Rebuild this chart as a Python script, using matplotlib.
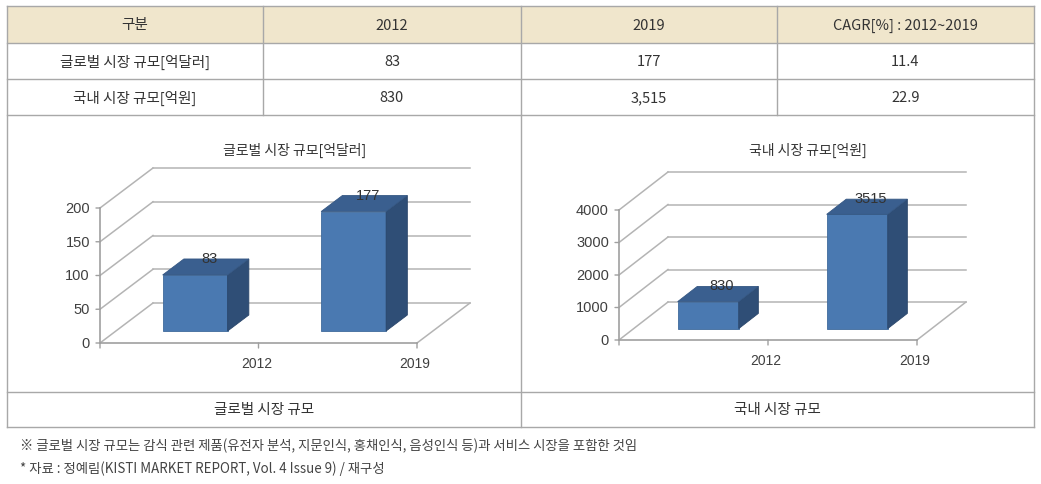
import matplotlib
matplotlib.use("Agg")
import matplotlib.pyplot as plt
from matplotlib.patches import Polygon, Rectangle

plt.rcParams['font.family'] = ['Noto Sans CJK KR', 'DejaVu Sans']

# data
header = ['구분', '2012', '2019', 'CAGR[%] : 2012~2019']
years = ['2012', '2019']
row_names = ['글로벌 시장 규모[억달러]', '국내 시장 규모[억원]']
global_size = [83, 177]
domestic_size = [830, 3515]
cagr = [11.4, 22.9]
global_ticks = [0, 50, 100, 150, 200]
domestic_ticks = [0, 1000, 2000, 3000, 4000]
captions = ['글로벌 시장 규모', '국내 시장 규모']
notes = ['※ 글로벌 시장 규모는 감식 관련 제품(유전자 분석, 지문인식, 홍채인식, 음성인식 등)과 서비스 시장을 포함한 것임',
         '* 자료 : 정예림(KISTI MARKET REPORT, Vol. 4 Issue 9) / 재구성']

W, H = 1041, 485
fig = plt.figure(figsize=(W / 100, H / 100), dpi=100)

# table frame (pixel coords)
tab = fig.add_axes([0, 0, 1, 1])
tab.set_xlim(0, W)
tab.set_ylim(H, 0)
tab.axis('off')

line_c = '#a8a8a8'
txt_c = '#333333'
cols = [7, 263, 521, 777, 1034]
rows = [7, 44, 80, 116]
tab.add_patch(Rectangle((cols[0], rows[0]), cols[-1] - cols[0], rows[1] - rows[0],
                        facecolor='#f0e6cc', edgecolor='none'))
for y in rows + [393, 428]:
    tab.plot([cols[0], cols[-1]], [y, y], color=line_c, lw=1)
for x in cols:
    if x in (7, 1034):
        tab.plot([x, x], [rows[0], 428], color=line_c, lw=1)
    else:
        tab.plot([x, x], [rows[0], rows[-1]], color=line_c, lw=1)
tab.plot([521, 521], [116, 428], color=line_c, lw=1)

table_rows = [header,
              [row_names[0], f"{global_size[0]:,}", f"{global_size[1]:,}", f"{cagr[0]}"],
              [row_names[1], f"{domestic_size[0]:,}", f"{domestic_size[1]:,}", f"{cagr[1]}"]]
for r, cells in enumerate(table_rows):
    yc = (rows[r] + rows[r + 1]) / 2
    for c, s in enumerate(cells):
        xc = (cols[c] + cols[c + 1]) / 2
        tab.text(xc, yc, s, ha='center', va='center', fontsize=10.5, color=txt_c)

for xc, s in zip([264, 777], captions):
    tab.text(xc, 410.5, s, ha='center', va='center', fontsize=10.5, color=txt_c)
tab.text(20, 446, notes[0], ha='left', va='center', fontsize=9.6, color='#444444')
tab.text(20, 469, notes[1], ha='left', va='center', fontsize=9.6, color='#444444')


def chart(box, x0, x1, y0, ytop, ticks, values, depth, title, title_xy):
    left, top, right, bottom = box
    ax = fig.add_axes([left / W, 1 - bottom / H, (right - left) / W, (bottom - top) / H])
    ax.patch.set_alpha(0)
    ax.axis('off')
    n = len(values)
    ymax = ticks[-1]
    slot = (x1 - x0) / n
    vs = (y0 - ytop) / ymax
    ax.set_xlim((left - x0) / slot, (right - x0) / slot)
    ax.set_ylim((y0 - bottom) / vs, (y0 - top) / vs)
    du = depth[0] / slot
    dv = depth[1] / vs
    grid_c = '#b4b4b4'
    axis_c = '#a0a0a0'
    # walls and floor
    for t in ticks:
        ax.plot([du, n + du], [t + dv, t + dv], color=grid_c, lw=1.1, zorder=1)
        ax.plot([0, du], [t, t + dv], color=grid_c, lw=1.1, zorder=1)
        ax.annotate('', xy=(0, t), xytext=(-4, 0), textcoords='offset pixels',
                    arrowprops=dict(arrowstyle='-', color=axis_c, lw=1, shrinkA=0, shrinkB=0))
        ax.annotate(f"{t}", xy=(0, t), xytext=(-10, 0), textcoords='offset pixels',
                    ha='right', va='center', fontsize=10.5, color='#404040',
                    family=['Liberation Sans', 'DejaVu Sans'])
    ax.plot([n, n + du], [0, dv], color=grid_c, lw=1.1, zorder=1)
    ax.plot([0, n], [0, 0], color=axis_c, lw=1.2, zorder=2)
    ax.plot([0, 0], [0, ymax], color=axis_c, lw=1.2, zorder=2)
    for k in range(n + 1):
        ax.annotate('', xy=(k, 0), xytext=(0, -5), textcoords='offset pixels',
                    arrowprops=dict(arrowstyle='-', color=axis_c, lw=1, shrinkA=0, shrinkB=0))
    for k, lab in enumerate(years):
        ax.annotate(lab, xy=(k + 1, 0), xytext=(-2, -20), textcoords='offset pixels',
                    ha='center', va='center', fontsize=10, color='#404040',
                    family=['Liberation Sans', 'DejaVu Sans'])
    # bars
    w = 0.205
    f0, f1 = 0.3, 0.7
    for i, v in enumerate(values):
        uc = i + 0.5
        a, b = uc - w, uc + w
        front = [(a + f0 * du, f0 * dv), (b + f0 * du, f0 * dv),
                 (b + f0 * du, v + f0 * dv), (a + f0 * du, v + f0 * dv)]
        side = [(b + f0 * du, f0 * dv), (b + f1 * du, f1 * dv),
                (b + f1 * du, v + f1 * dv), (b + f0 * du, v + f0 * dv)]
        topf = [(a + f0 * du, v + f0 * dv), (b + f0 * du, v + f0 * dv),
                (b + f1 * du, v + f1 * dv), (a + f1 * du, v + f1 * dv)]
        ax.add_patch(Polygon(front, closed=True, facecolor='#4a79b1', edgecolor='#3f6a9c', lw=0.6, zorder=3))
        ax.add_patch(Polygon(side, closed=True, facecolor='#2f4e76', edgecolor='#2a466b', lw=0.6, zorder=3))
        ax.add_patch(Polygon(topf, closed=True, facecolor='#3a5f8f', edgecolor='#355783', lw=0.6, zorder=3))
        fm = (f0 + f1) / 2
        ax.annotate(f"{v}", xy=(uc + fm * du, v + fm * dv), xytext=(4, 9),
                    textcoords='offset pixels', ha='center', va='center', fontsize=10.5,
                    color='#333333', zorder=5, family=['Liberation Sans', 'DejaVu Sans'])
    tab.text(title_xy[0], title_xy[1], title, ha='center', va='center', fontsize=10, color=txt_c)


chart((20, 125, 515, 390), 100, 417, 344, 209, global_ticks, global_size, (53, 40),
      row_names[0], (295, 150))
chart((530, 125, 1028, 390), 619, 917, 341, 211, domestic_ticks, domestic_size, (49, 38),
      row_names[1], (808, 150))

fig.savefig('out.png', dpi=100)
